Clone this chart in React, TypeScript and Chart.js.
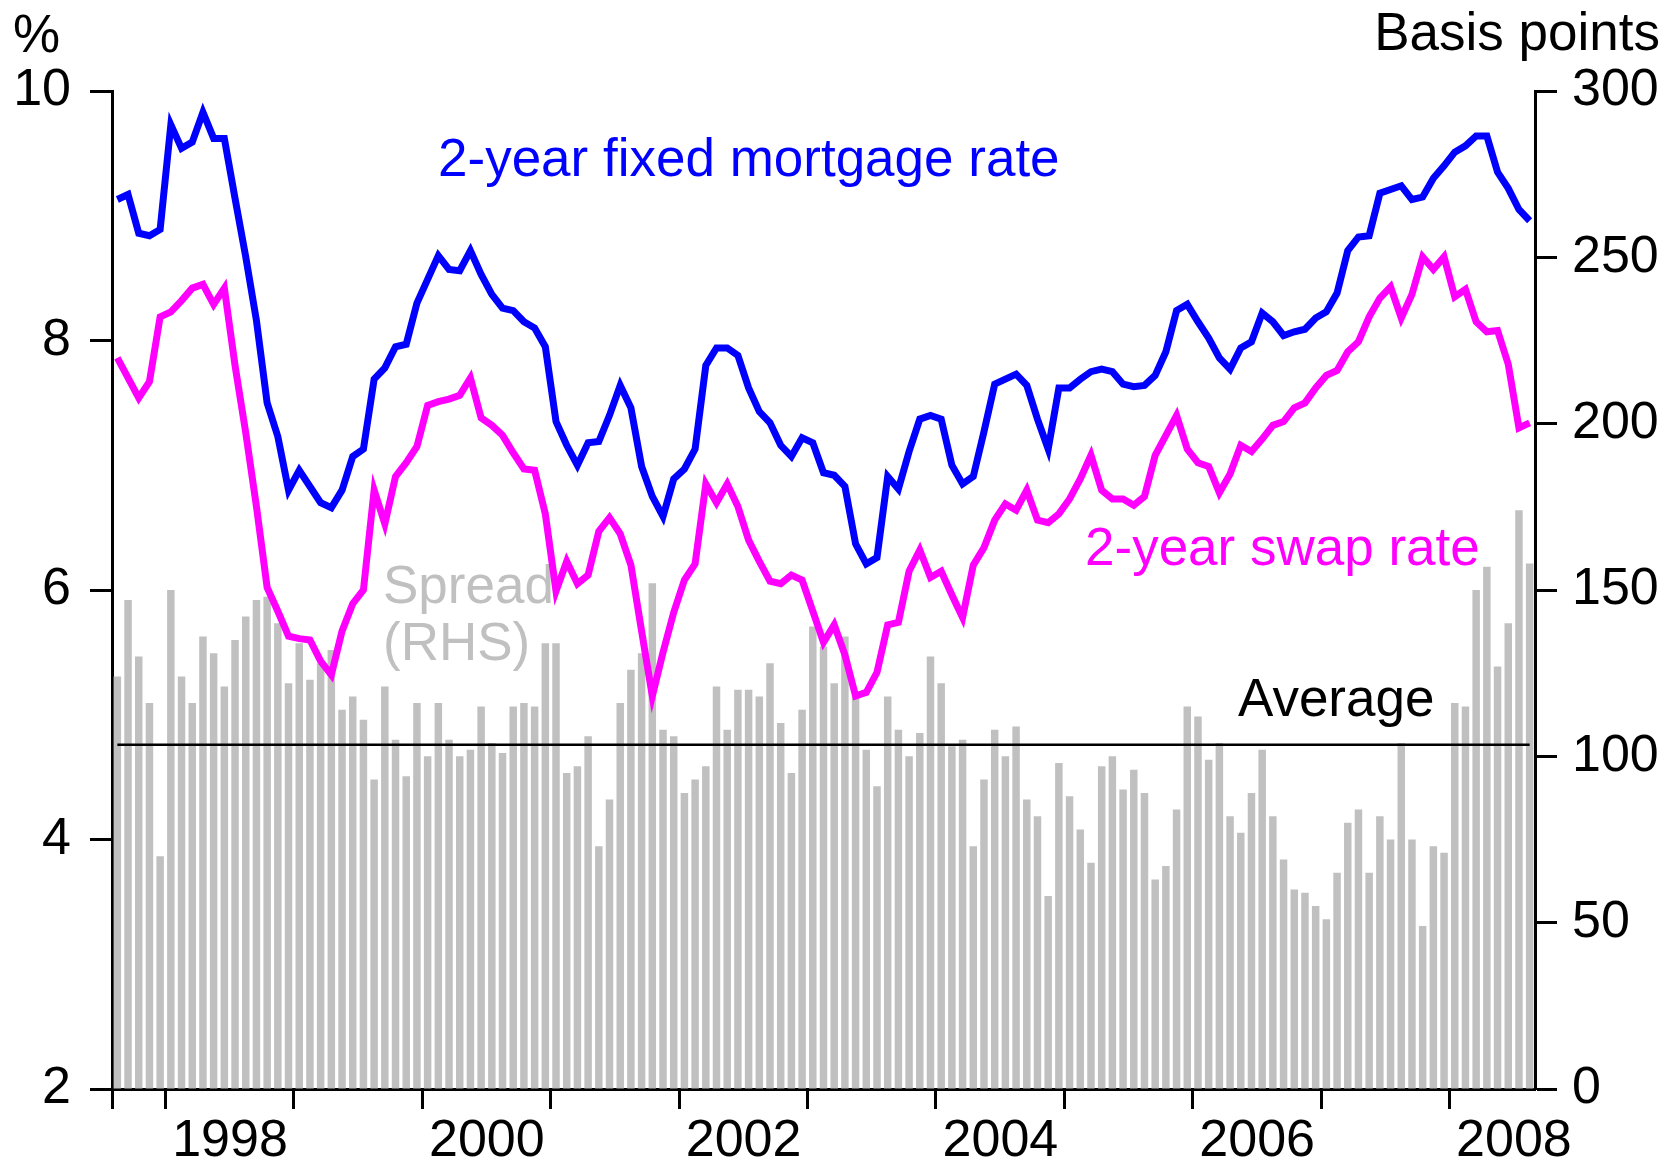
import React, { useEffect, useRef } from 'react';
import { Chart, registerables } from 'chart.js';

Chart.register(...registerables);

// ---- Categories (monthly, Aug 1997 .. Aug 2008) ----
const startYear = 1997;
const startMonth = 8;
const monthCount = 133;
const months: string[] = [];
for (let k = 0; k < monthCount; k++) {
  const m = (startMonth - 1 + k) % 12;
  const y = startYear + Math.floor((startMonth - 1 + k) / 12);
  months.push(`${y}-${String(m + 1).padStart(2, '0')}`);
}

// ---- Tick labels ----
const yearTickLabels = ['1998', '2000', '2002', '2004', '2006', '2008'];

// ---- Series (%, left axis) ----
const mortgageRate = [
  9.13, 9.17, 8.86, 8.84, 8.89, 9.73, 9.54, 9.59, 9.83, 9.62,
  9.62, 9.14, 8.67, 8.16, 7.50, 7.23, 6.80, 6.96, 6.83, 6.70,
  6.66, 6.80, 7.07, 7.13, 7.69, 7.78, 7.95, 7.97, 8.30, 8.49,
  8.68, 8.57, 8.56, 8.72, 8.53, 8.37, 8.26, 8.24, 8.15, 8.10,
  7.95, 7.35, 7.16, 7.00, 7.18, 7.19, 7.40, 7.64, 7.46, 6.99,
  6.75, 6.59, 6.89, 6.97, 7.13, 7.80, 7.94, 7.94, 7.88, 7.62,
  7.43, 7.34, 7.16, 7.07, 7.22, 7.18, 6.94, 6.92, 6.83, 6.37,
  6.21, 6.26, 6.91, 6.81, 7.11, 7.37, 7.40, 7.37, 7.00, 6.85,
  6.91, 7.27, 7.65, 7.69, 7.73, 7.64, 7.37, 7.13, 7.62, 7.62,
  7.69, 7.75, 7.77, 7.75, 7.65, 7.63, 7.64, 7.72, 7.91, 8.24,
  8.29, 8.15, 8.02, 7.86, 7.77, 7.94, 7.99, 8.22, 8.15, 8.04,
  8.07, 8.09, 8.18, 8.23, 8.38, 8.72, 8.83, 8.84, 9.18, 9.21,
  9.24, 9.13, 9.15, 9.30, 9.40, 9.51, 9.56, 9.64, 9.64, 9.35,
  9.22, 9.05, 8.96,
];

const swapRate = [
  7.86, 7.70, 7.54, 7.67, 8.19, 8.23, 8.32, 8.42, 8.45, 8.29,
  8.42, 7.80, 7.26, 6.67, 6.02, 5.83, 5.63, 5.61, 5.60, 5.43,
  5.32, 5.67, 5.89, 6.00, 6.80, 6.53, 6.91, 7.02, 7.15, 7.48,
  7.51, 7.53, 7.56, 7.70, 7.38, 7.32, 7.24, 7.10, 6.97, 6.96,
  6.61, 5.99, 6.23, 6.05, 6.12, 6.47, 6.58, 6.45, 6.20, 5.67,
  5.15, 5.50, 5.82, 6.08, 6.21, 6.85, 6.70, 6.85, 6.67, 6.40,
  6.23, 6.07, 6.05, 6.12, 6.08, 5.83, 5.58, 5.72, 5.48, 5.15,
  5.18, 5.34, 5.72, 5.74, 6.15, 6.32, 6.10, 6.15, 5.96, 5.78,
  6.20, 6.34, 6.56, 6.69, 6.64, 6.80, 6.56, 6.54, 6.61, 6.73,
  6.89, 7.08, 6.80, 6.73, 6.73, 6.68, 6.75, 7.08, 7.24, 7.40,
  7.13, 7.02, 6.99, 6.78, 6.93, 7.16, 7.11, 7.21, 7.32, 7.35,
  7.46, 7.50, 7.62, 7.72, 7.76, 7.91, 7.99, 8.19, 8.34, 8.43,
  8.18, 8.37, 8.67, 8.57, 8.67, 8.35, 8.41, 8.15, 8.07, 8.08,
  7.81, 7.30, 7.34,
];

// ---- Spread (basis points, right axis) ----
const spreadBp = [
  124, 147, 130, 116, 70, 150, 124, 116, 136, 131,
  121, 135, 142, 147, 148, 140, 122, 134, 123, 128,
  132, 114, 118, 111, 93, 121, 105, 94, 116, 100,
  116, 105, 100, 102, 115, 104, 101, 115, 116, 115,
  134, 134, 95, 97, 106, 73, 87, 116, 126, 131,
  152, 108, 106, 89, 93, 97, 121, 108, 120, 120,
  118, 128, 110, 95, 114, 139, 133, 122, 136, 118,
  102, 91, 118, 108, 100, 107, 130, 122, 103, 105,
  73, 93, 108, 100, 109, 87, 82, 58, 98, 88,
  78, 68, 97, 100, 90, 96, 89, 63, 67, 84,
  115, 112, 99, 104, 82, 77, 89, 102, 82, 69,
  60, 59, 55, 51, 65, 80, 84, 65, 82, 75,
  104, 75, 49, 73, 71, 116, 115, 150, 157, 127,
  140, 174, 158,
];
const spreadAverage = 103.5;

const FONT = '"Liberation Sans", Arial, Helvetica, sans-serif';
const FS = 52;
const FS_NOTE = 53;

const isYearStart = (i: any): boolean => {
  if (typeof i !== 'number') return false;
  if (i === 0) return true;
  const lbl = months[i];
  return typeof lbl === 'string' && lbl.endsWith('-01');
};

const textPlugin = {
  id: 'textAnnotations',
  beforeDatasetsDraw(chart: any) {
    const ctx = chart.ctx as CanvasRenderingContext2D;
    ctx.save();
    ctx.font = `${FS_NOTE}px ${FONT}`;
    ctx.textBaseline = 'alphabetic';
    ctx.textAlign = 'left';
    ctx.fillStyle = '#0000ff';
    ctx.fillText('2-year fixed mortgage rate', 438, 176);
    ctx.fillStyle = '#ff00ff';
    ctx.fillText('2-year swap rate', 1085, 565);
    ctx.fillStyle = '#c0c0c0';
    ctx.fillText('Spread', 383, 603);
    ctx.fillText('(RHS)', 383, 660);
    ctx.fillStyle = '#000000';
    ctx.fillText('Average', 1238, 716);
    ctx.restore();
  },
  afterDraw(chart: any) {
    const ctx = chart.ctx as CanvasRenderingContext2D;
    ctx.save();
    ctx.font = `${FS_NOTE}px ${FONT}`;
    ctx.textBaseline = 'alphabetic';
    ctx.fillStyle = '#000000';
    ctx.textAlign = 'left';
    ctx.fillText('%', 13, 52);
    ctx.textAlign = 'right';
    ctx.fillText('Basis points', 1660, 50);
    ctx.restore();
  },
};

export default function App() {
  const ref = useRef<HTMLCanvasElement>(null);

  useEffect(() => {
    if (!ref.current) return;
    const transparent = 'rgba(0,0,0,0)';
    const chart = new Chart(ref.current, {
      type: 'bar',
      data: {
        labels: months,
        datasets: [
          {
            type: 'line',
            label: '2-year fixed mortgage rate',
            data: mortgageRate,
            yAxisID: 'y',
            borderColor: '#0000ff',
            borderWidth: 7,
            pointRadius: 0,
            tension: 0,
            borderJoinStyle: 'miter',
            order: 1,
          } as any,
          {
            type: 'line',
            label: '2-year swap rate',
            data: swapRate,
            yAxisID: 'y',
            borderColor: '#ff00ff',
            borderWidth: 7,
            pointRadius: 0,
            tension: 0,
            borderJoinStyle: 'miter',
            order: 1,
          } as any,
          {
            type: 'line',
            label: 'Average',
            data: months.map(() => spreadAverage),
            yAxisID: 'y1',
            borderColor: '#000000',
            borderWidth: 2.5,
            pointRadius: 0,
            tension: 0,
            order: 2,
          } as any,
          {
            type: 'bar',
            label: 'Spread',
            data: spreadBp,
            yAxisID: 'y1',
            backgroundColor: '#c0c0c0',
            borderWidth: 0,
            barPercentage: 0.7,
            categoryPercentage: 1.0,
            order: 3,
          } as any,
        ],
      },
      options: {
        responsive: false,
        animation: false,
        devicePixelRatio: 1,
        layout: { padding: { top: 91, left: 0, right: 0, bottom: 0 } },
        plugins: {
          legend: { display: false },
          tooltip: { enabled: false },
        },
        scales: {
          x: {
            type: 'category',
            offset: true,
            grid: {
              display: true,
              offset: true,
              drawOnChartArea: false,
              drawTicks: true,
              tickLength: 20,
              tickWidth: 3,
              color: transparent,
              tickColor: (c: any) => (c && isYearStart(c.index) ? '#000000' : transparent),
            },
            border: { display: true, color: '#000000', width: 3 },
            ticks: {
              autoSkip: false,
              maxRotation: 0,
              minRotation: 0,
              padding: 1,
              labelOffset: -5,
              color: '#000000',
              font: { family: FONT, size: FS },
              callback: (_v: any, index: number) => {
                const lbl = months[index];
                if (typeof lbl !== 'string') return '';
                const [yy, mm] = lbl.split('-');
                return mm === '07' && yearTickLabels.includes(yy) ? yy : '';
              },
            },
            afterFit: (s: any) => {
              s.height = 79;
            },
          },
          y: {
            type: 'linear',
            position: 'left',
            min: 2,
            max: 10,
            grid: {
              drawOnChartArea: false,
              drawTicks: true,
              tickLength: 22,
              tickWidth: 3,
              tickColor: '#000000',
            },
            border: { display: true, color: '#000000', width: 3 },
            ticks: {
              stepSize: 2,
              padding: 19,
              color: '#000000',
              font: { family: FONT, size: FS },
            },
            afterFit: (s: any) => {
              s.width = 112;
            },
          },
          y1: {
            type: 'linear',
            position: 'right',
            min: 0,
            max: 300,
            grid: {
              drawOnChartArea: false,
              drawTicks: true,
              tickLength: 22,
              tickWidth: 3,
              tickColor: '#000000',
            },
            border: { display: true, color: '#000000', width: 3 },
            ticks: {
              stepSize: 50,
              padding: 15,
              color: '#000000',
              font: { family: FONT, size: FS },
            },
            afterFit: (s: any) => {
              s.width = 142;
            },
          },
        },
      } as any,
      plugins: [textPlugin],
    });
    return () => chart.destroy();
  }, []);

  return (
    <div
      style={{
        position: 'absolute',
        left: 0,
        top: 0,
        width: 1677,
        height: 1168,
        background: '#ffffff',
      }}
    >
      <canvas
        ref={ref}
        width={1677}
        height={1168}
        style={{ display: 'block', width: 1677, height: 1168 }}
      />
    </div>
  );
}
